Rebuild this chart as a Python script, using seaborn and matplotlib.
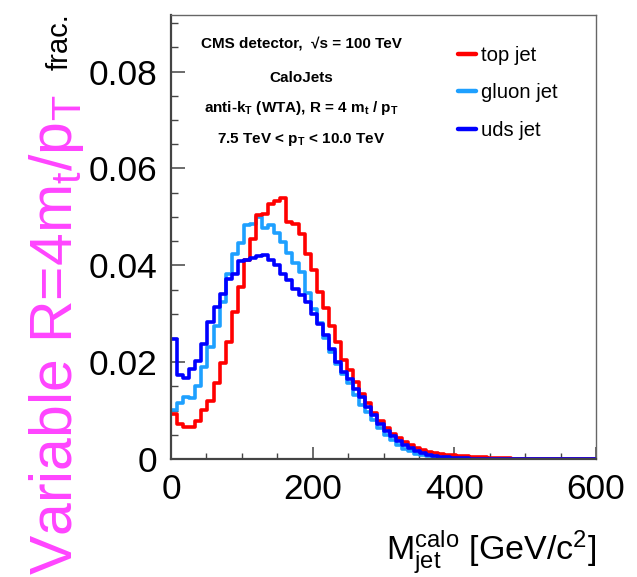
import numpy as np
import pandas as pd
import matplotlib
matplotlib.use("Agg")
import matplotlib.pyplot as plt
from matplotlib.lines import Line2D
from matplotlib.ticker import MultipleLocator, FuncFormatter
import seaborn as sns

# ---------------- data (fraction per bin, 70 bins from 0 to 600 GeV) ----------------
x_min, x_max, n_bins = 0, 600, 70

top_jet = [0.0093, 0.0073, 0.0067, 0.0067, 0.0078, 0.0101, 0.0120, 0.0157, 0.0199, 0.0242,
           0.0304, 0.0355, 0.0410, 0.0455, 0.0503, 0.0507, 0.0527, 0.0533, 0.0540, 0.0489,
           0.0486, 0.0465, 0.0424, 0.0390, 0.0345, 0.0312, 0.0275, 0.0242, 0.0205, 0.0183,
           0.0158, 0.0135, 0.0115, 0.0095, 0.0078, 0.0063, 0.0052, 0.0043, 0.0035, 0.0028,
           0.0022, 0.0018, 0.0015, 0.0013, 0.0011, 0.0009, 0.0008, 0.0007, 0.0006, 0.0005,
           0.0004, 0.0004, 0.0003, 0.0003, 0.0002, 0.0002, 0.0001, 0.0001, 0.0001, 0.0001,
           0.0, 0.0, 0.0, 0.0, 0.0, 0.0, 0.0, 0.0, 0.0, 0.0]

gluon_jet = [0.0101, 0.0115, 0.0129, 0.0125, 0.0150, 0.0190, 0.0231, 0.0274, 0.0325, 0.0383,
             0.0424, 0.0446, 0.0483, 0.0486, 0.0500, 0.0478, 0.0484, 0.0467, 0.0448, 0.0425,
             0.0405, 0.0386, 0.0342, 0.0310, 0.0280, 0.0250, 0.0222, 0.0197, 0.0176, 0.0156,
             0.0132, 0.0111, 0.0098, 0.0080, 0.0063, 0.0049, 0.0039, 0.0028, 0.0021, 0.0016,
             0.0011, 0.0008, 0.0006, 0.0004, 0.0003, 0.0002, 0.0002, 0.0001, 0.0001, 0.0,
             0.0, 0.0, 0.0, 0.0, 0.0, 0.0, 0.0, 0.0, 0.0, 0.0,
             0.0, 0.0, 0.0, 0.0, 0.0, 0.0, 0.0, 0.0, 0.0, 0.0]

uds_jet = [0.0248, 0.0173, 0.0168, 0.0185, 0.0202, 0.0238, 0.0282, 0.0314, 0.0340, 0.0371,
           0.0383, 0.0409, 0.0412, 0.0415, 0.0419, 0.0421, 0.0410, 0.0400, 0.0383, 0.0369,
           0.0352, 0.0338, 0.0324, 0.0300, 0.0278, 0.0256, 0.0227, 0.0200, 0.0180, 0.0165,
           0.0145, 0.0128, 0.0108, 0.0090, 0.0072, 0.0058, 0.0047, 0.0037, 0.0028, 0.0022,
           0.0016, 0.0012, 0.0009, 0.0007, 0.0005, 0.0004, 0.0003, 0.0002, 0.0002, 0.0001,
           0.0001, 0.0001, 0.0, 0.0, 0.0, 0.0, 0.0, 0.0, 0.0, 0.0,
           0.0, 0.0, 0.0, 0.0, 0.0, 0.0, 0.0, 0.0, 0.0, 0.0]

series_names = ["top jet", "gluon jet", "uds jet"]
series_colors = {"top jet": "#ff0000", "gluon jet": "#1ea0ff", "uds jet": "#0000ff"}

x_ticks = [0, 200, 400, 600]
y_ticks = [0, 0.02, 0.04, 0.06, 0.08]

info_lines = ["CMS detector,  \u221as = 100 TeV",
              "CaloJets",
              r"anti-k$_\mathbf{T}$ (WTA), R = 4 m$_\mathbf{t}$ / p$_\mathbf{T}$",
              r"7.5 TeV < p$_\mathbf{T}$ < 10.0 TeV"]

# ---------------- style ----------------
sns.set_style("ticks")
plt.rcParams["font.family"] = ["Liberation Sans", "DejaVu Sans"]
plt.rcParams["mathtext.fontset"] = "custom"
plt.rcParams["mathtext.rm"] = "Liberation Sans"
plt.rcParams["mathtext.it"] = "Liberation Sans:italic"
plt.rcParams["mathtext.bf"] = "Liberation Sans:bold"
plt.rcParams["mathtext.default"] = "regular"
plt.rcParams["text.color"] = "black"
plt.rcParams["xtick.labelcolor"] = "black"
plt.rcParams["ytick.labelcolor"] = "black"

W, H = 637, 577
fig = plt.figure(figsize=(W / 100, H / 100), dpi=100)
fig.patch.set_facecolor("white")
ax = fig.add_axes([171 / W, 1 - 459 / H, (596 - 171) / W, (459 - 15) / H])
ax.set_facecolor("white")

edges = np.linspace(x_min, x_max, n_bins + 1)
centers = 0.5 * (edges[:-1] + edges[1:])
df = pd.DataFrame({
    "mass": np.concatenate([centers] * 3),
    "frac": np.concatenate([top_jet, gluon_jet, uds_jet]),
    "jet": np.repeat(series_names, n_bins),
})

for name in ["gluon jet", "top jet", "uds jet"]:
    sub = df[df["jet"] == name].reset_index(drop=True)
    sns.histplot(data=sub, x="mass", weights="frac", bins=edges.tolist(), element="step",
                 fill=False, color=series_colors[name], linewidth=2.6, ax=ax)

ax.set_xlim(0, 600)
ax.set_ylim(0, 0.0917)
ax.set_xlabel("")
ax.set_ylabel("")
ax.set_xticks(x_ticks)
ax.set_yticks(y_ticks)
ax.xaxis.set_minor_locator(MultipleLocator(50))
ax.yaxis.set_minor_locator(MultipleLocator(0.005))
ax.yaxis.set_major_formatter(FuncFormatter(lambda v, p: "0" if abs(v) < 1e-9 else f"{v:.2f}"))
ax.xaxis.set_major_formatter(FuncFormatter(lambda v, p: f"{v:.0f}"))

ax.tick_params(which="both", direction="in", top=False, right=False, color="#444444",
               labelcolor="black")
ax.tick_params(axis="y", which="major", length=10, width=1.1, pad=10, labelsize=25.5)
ax.tick_params(axis="y", which="minor", length=5, width=1.0)
ax.tick_params(axis="x", which="major", length=8.6, width=1.1, pad=10, labelsize=25.5)
ax.tick_params(axis="x", which="minor", length=4.3, width=1.0)

for side in ["left", "bottom"]:
    ax.spines[side].set_linewidth(1.6)
    ax.spines[side].set_color("#444444")
for side in ["top", "right"]:
    ax.spines[side].set_linewidth(1.0)
    ax.spines[side].set_color("#666666")

# info text
info_y = [43, 78, 108, 140]
for txt, yy in zip(info_lines, info_y):
    fig.text(301 / W, 1 - yy / H, txt, ha="center", va="center",
             fontsize=11, fontweight="bold", color="black")

# legend
handles = [Line2D([0], [0], color=series_colors[n], lw=3.2) for n in series_names]
leg = ax.legend(handles, series_names, loc="center left",
                bbox_to_anchor=(458 / W, 1 - 93 / H), bbox_transform=fig.transFigure,
                frameon=False, fontsize=14.6, handlelength=0.9, handletextpad=0.25,
                labelspacing=0.9, borderpad=0, borderaxespad=0)
for t in leg.get_texts():
    t.set_color("black")

# axis titles
fig.text(56 / W, 1 - 95 / H, r"Variable R=4m$_{t}$/p$_{T}$", rotation=90,
         ha="center", va="top", fontsize=42.4, color="#ff44ff")
fig.text(60 / W, 1 - 13 / H, "frac.", rotation=90, ha="center", va="top",
         fontsize=21, color="black")
fig.text(596 / W, 1 - 560 / H, r"M$^{calo}_{jet}$ [GeV/c$^{2}$]", ha="right",
         va="baseline", fontsize=24.5, color="black")

fig.savefig("out.png", dpi=100, facecolor="white")
